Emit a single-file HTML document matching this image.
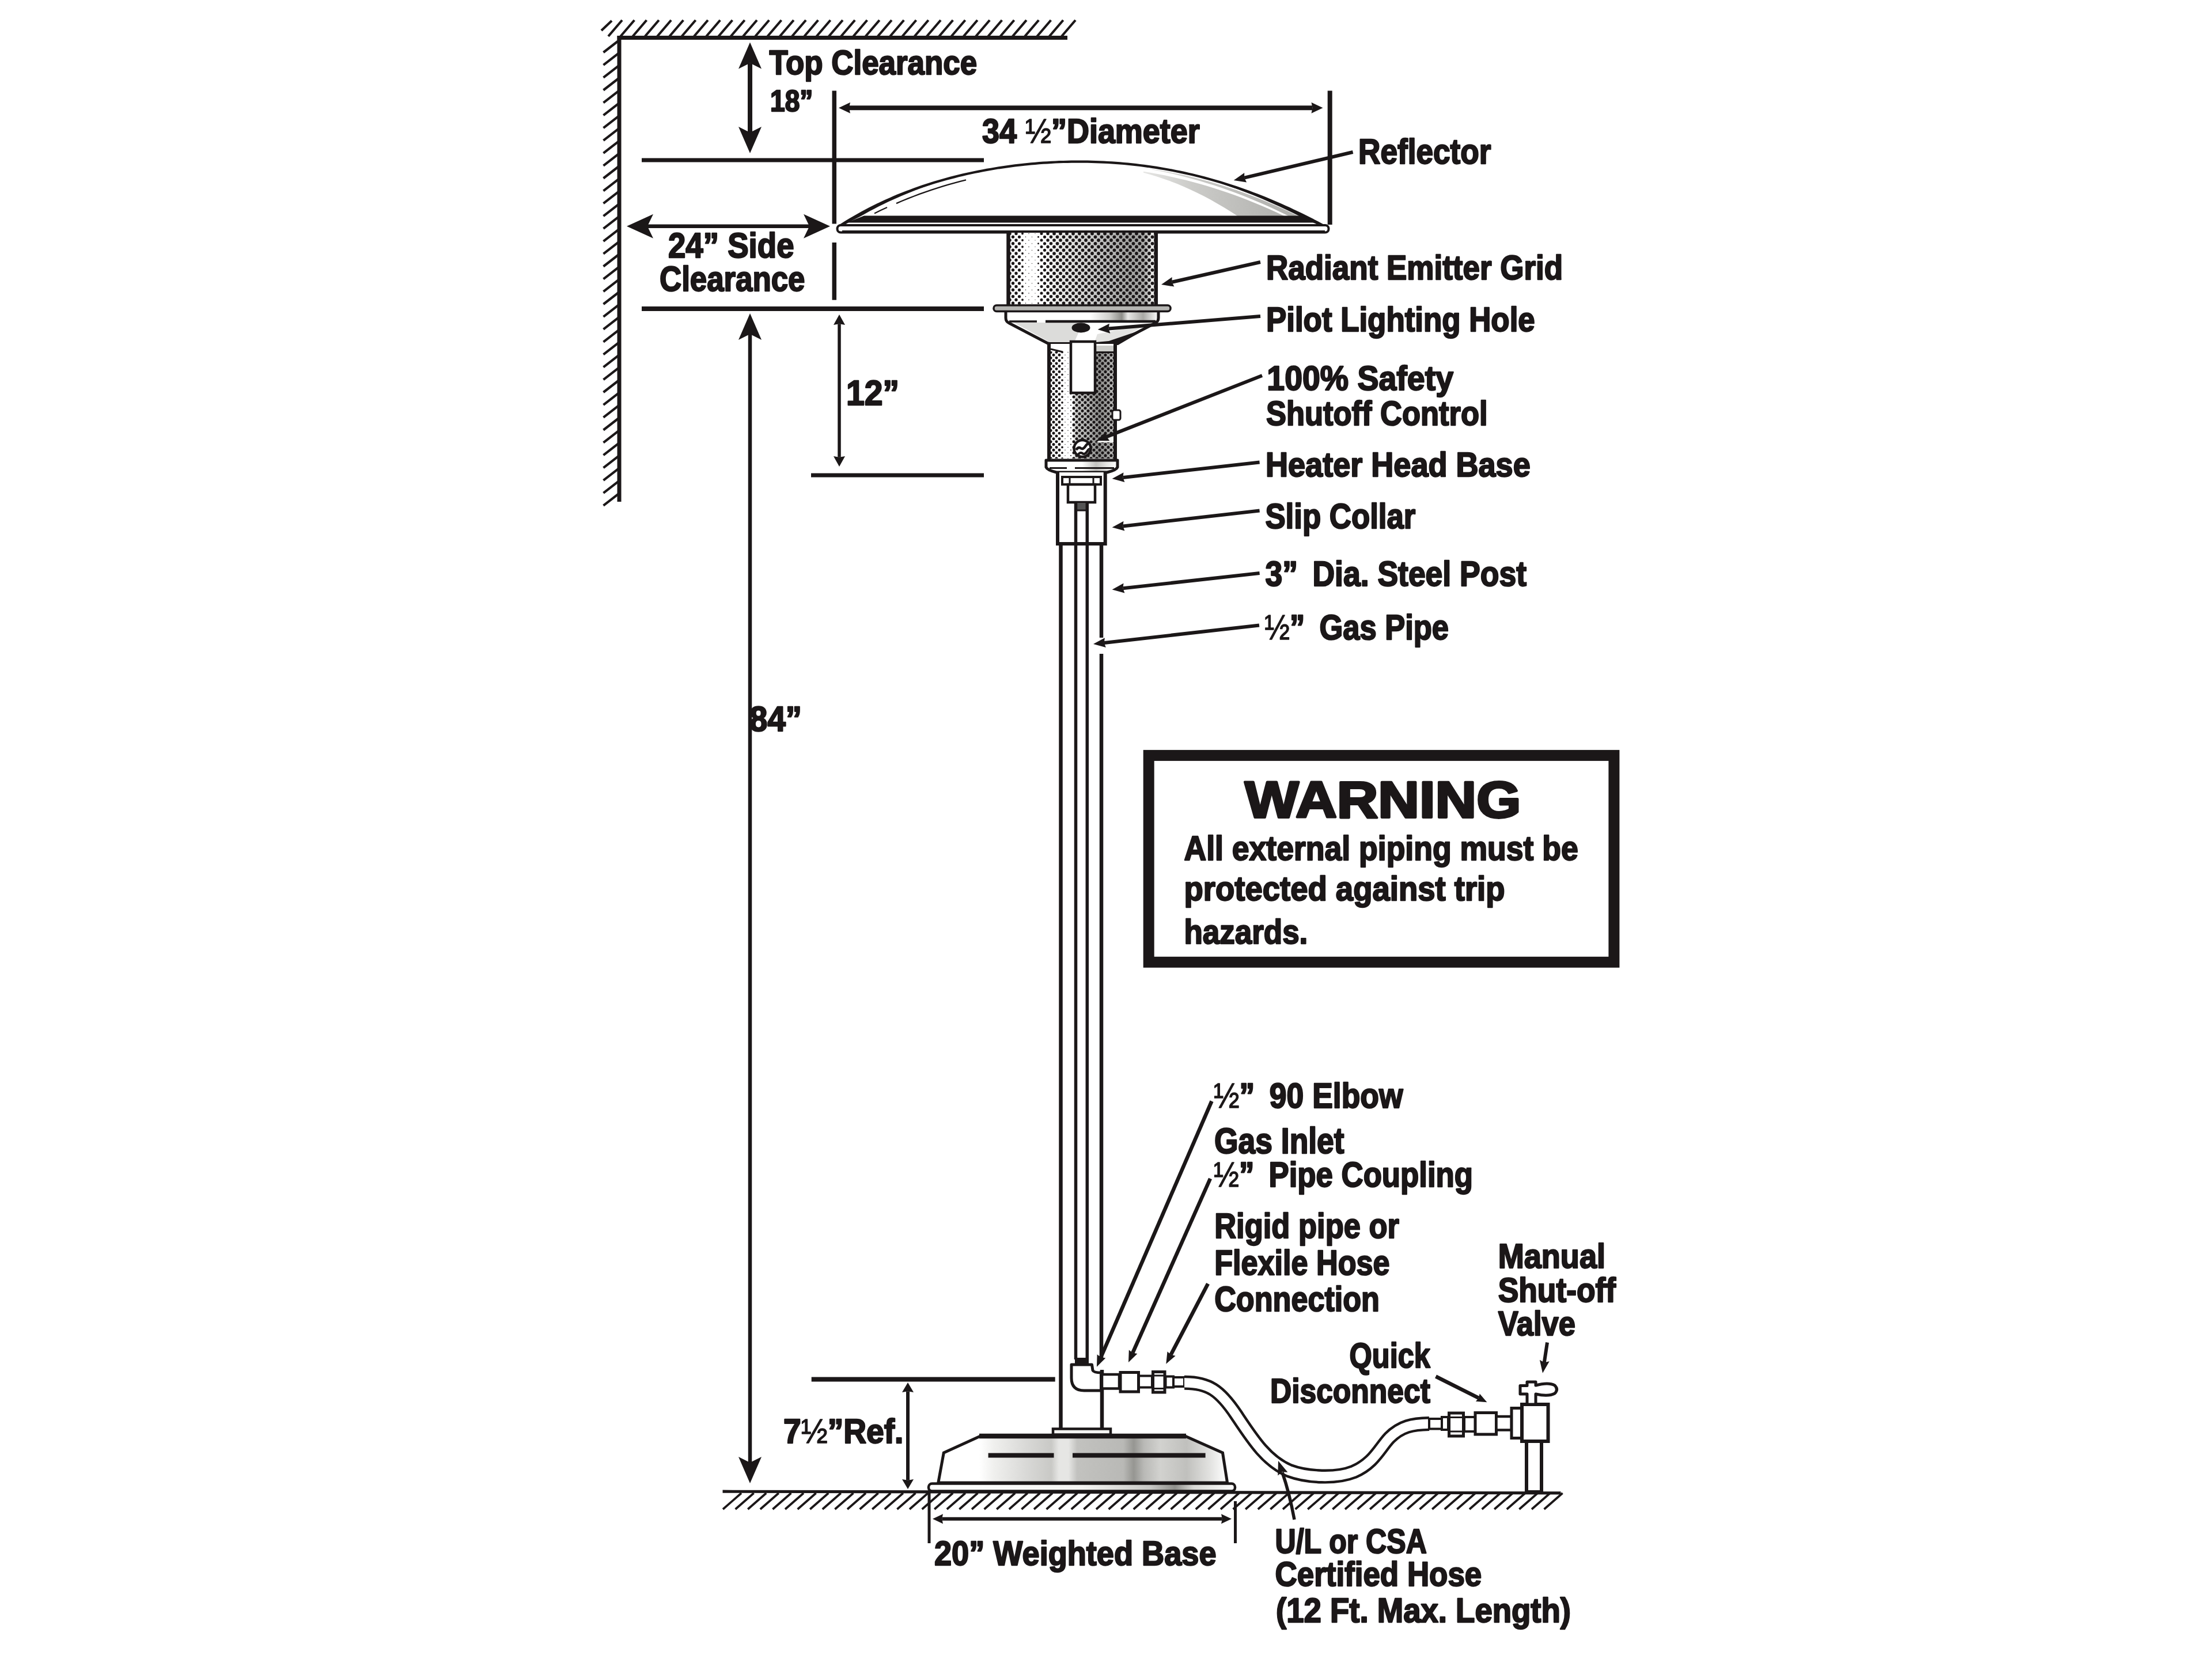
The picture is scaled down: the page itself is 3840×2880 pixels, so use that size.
<!DOCTYPE html>
<html lang="en">
<head>
<meta charset="utf-8">
<title>Patio Heater Dimensions and Clearances</title>
<style>
html,body{margin:0;padding:0;background:#fff;}
body{width:3840px;height:2880px;overflow:hidden;font-family:"Liberation Sans",Arial,sans-serif;}
svg{display:block;}
</style>
</head>
<body>
<svg width="3840" height="2880" viewBox="0 0 3840 2880">
<defs>
<linearGradient id="emit" x1="0" x2="1" y1="0" y2="0">
<stop offset="0" stop-color="#fff"/>
<stop offset="0.24" stop-color="#fff"/>
<stop offset="0.32" stop-color="#f0f0ee"/>
<stop offset="0.47" stop-color="#dcdcda"/>
<stop offset="0.66" stop-color="#bababa"/>
<stop offset="0.82" stop-color="#a3a3a1"/>
<stop offset="0.92" stop-color="#a9a9a7"/>
<stop offset="0.975" stop-color="#e8e8e6"/>
<stop offset="1" stop-color="#fff"/>
</linearGradient>
<linearGradient id="neck" x1="0" x2="1" y1="0" y2="0">
<stop offset="0" stop-color="#fff"/>
<stop offset="0.35" stop-color="#fff"/>
<stop offset="0.42" stop-color="#c9c9c7"/>
<stop offset="0.6" stop-color="#b0b0ae"/>
<stop offset="0.76" stop-color="#8e8e8c"/>
<stop offset="0.9" stop-color="#a4a4a2"/>
<stop offset="1" stop-color="#d0d0ce"/>
</linearGradient>
<linearGradient id="baseg" x1="1628" x2="2132" y1="0" y2="0" gradientUnits="userSpaceOnUse">
<stop offset="0.000" stop-color="#fff"/>
<stop offset="0.143" stop-color="#fff"/>
<stop offset="0.192" stop-color="#f0f0ee"/>
<stop offset="0.302" stop-color="#d9d9d7"/>
<stop offset="0.391" stop-color="#c9c9c6"/>
<stop offset="0.417" stop-color="#e6e6e4"/>
<stop offset="0.450" stop-color="#e6e6e4"/>
<stop offset="0.480" stop-color="#c2c2bf"/>
<stop offset="0.639" stop-color="#b9b9b6"/>
<stop offset="0.675" stop-color="#969692"/>
<stop offset="0.710" stop-color="#b9b9b6"/>
<stop offset="0.766" stop-color="#d2d2cf"/>
<stop offset="0.857" stop-color="#c0c0bd"/>
<stop offset="0.937" stop-color="#e2e2e0"/>
<stop offset="0.996" stop-color="#fff"/>
</linearGradient>
<linearGradient id="rimg" x1="1611" x2="2147" y1="0" y2="0" gradientUnits="userSpaceOnUse">
<stop offset="0" stop-color="#fff"/>
<stop offset="0.5" stop-color="#f4f4f2"/>
<stop offset="0.72" stop-color="#c8c8c5"/>
<stop offset="0.8" stop-color="#8f8f8b"/>
<stop offset="0.86" stop-color="#d8d8d5"/>
<stop offset="1" stop-color="#fff"/>
</linearGradient>
<linearGradient id="bodyg" x1="1746" x2="2011" y1="0" y2="0" gradientUnits="userSpaceOnUse">
<stop offset="0" stop-color="#fff"/>
<stop offset="0.55" stop-color="#fff"/>
<stop offset="0.68" stop-color="#cfcfcc"/>
<stop offset="0.76" stop-color="#8d8d89"/>
<stop offset="0.8" stop-color="#e8e8e6"/>
<stop offset="0.9" stop-color="#a9a9a5"/>
<stop offset="1" stop-color="#fff"/>
</linearGradient>
<linearGradient id="collarg" x1="1816" x2="1940" y1="0" y2="0" gradientUnits="userSpaceOnUse">
<stop offset="0" stop-color="#fff"/>
<stop offset="0.5" stop-color="#fff"/>
<stop offset="0.7" stop-color="#c2c2bf"/>
<stop offset="0.85" stop-color="#e6e6e4"/>
<stop offset="1" stop-color="#fff"/>
</linearGradient>
<linearGradient id="domeg" x1="1985" x2="2230" y1="0" y2="0" gradientUnits="userSpaceOnUse">
<stop offset="0" stop-color="#e6e6e4"/>
<stop offset="0.35" stop-color="#cbcbc8"/>
<stop offset="1" stop-color="#b2b2af"/>
</linearGradient>
</defs>
<rect width="3840" height="2880" fill="#fff"/>
<path d="M1044,53L1062,36M1056.0,63L1080.0,35M1077.3,63L1101.3,35M1098.5,63L1122.5,35M1119.8,63L1143.8,35M1141.1,63L1165.1,35M1162.3,63L1186.3,35M1183.6,63L1207.6,35M1204.9,63L1228.9,35M1226.2,63L1250.2,35M1247.4,63L1271.4,35M1268.7,63L1292.7,35M1290.0,63L1314.0,35M1311.2,63L1335.2,35M1332.5,63L1356.5,35M1353.8,63L1377.8,35M1375.0,63L1399.0,35M1396.3,63L1420.3,35M1417.6,63L1441.6,35M1438.9,63L1462.9,35M1460.1,63L1484.1,35M1481.4,63L1505.4,35M1502.7,63L1526.7,35M1523.9,63L1547.9,35M1545.2,63L1569.2,35M1566.5,63L1590.5,35M1587.7,63L1611.7,35M1609.0,63L1633.0,35M1630.3,63L1654.3,35M1651.6,63L1675.6,35M1672.8,63L1696.8,35M1694.1,63L1718.1,35M1715.4,63L1739.4,35M1736.6,63L1760.6,35M1757.9,63L1781.9,35M1779.2,63L1803.2,35M1800.4,63L1824.4,35M1821.7,63L1845.7,35M1843.0,63L1867.0,35M1047.5,91.0L1074,70.5M1047.5,112.8L1074,92.3M1047.5,134.7L1074,114.2M1047.5,156.5L1074,136.0M1047.5,178.4L1074,157.9M1047.5,200.2L1074,179.7M1047.5,222.1L1074,201.6M1047.5,243.9L1074,223.4M1047.5,265.8L1074,245.3M1047.5,287.6L1074,267.1M1047.5,309.5L1074,289.0M1047.5,331.4L1074,310.9M1047.5,353.2L1074,332.7M1047.5,375.1L1074,354.6M1047.5,396.9L1074,376.4M1047.5,418.8L1074,398.3M1047.5,440.6L1074,420.1M1047.5,462.5L1074,442.0M1047.5,484.3L1074,463.8M1047.5,506.2L1074,485.7M1047.5,528.0L1074,507.5M1047.5,549.9L1074,529.4M1047.5,571.7L1074,551.2M1047.5,593.6L1074,573.1M1047.5,615.4L1074,594.9M1047.5,637.3L1074,616.8M1047.5,659.1L1074,638.6M1047.5,681.0L1074,660.5M1047.5,702.8L1074,682.3M1047.5,724.7L1074,704.2M1047.5,746.5L1074,726.0M1047.5,768.4L1074,747.9M1047.5,790.2L1074,769.7M1047.5,812.1L1074,791.6M1047.5,833.9L1074,813.4M1047.5,855.8L1074,835.3M1047.5,877.6L1074,857.1" stroke="#1b1718" stroke-width="4.2" fill="none"/>
<path d="M1255.0,2620L1287.0,2592M1276.6,2620L1308.6,2592M1298.2,2620L1330.2,2592M1319.8,2620L1351.8,2592M1341.4,2620L1373.4,2592M1363.0,2620L1395.0,2592M1384.6,2620L1416.6,2592M1406.2,2620L1438.2,2592M1427.8,2620L1459.8,2592M1449.4,2620L1481.4,2592M1471.0,2620L1503.0,2592M1492.6,2620L1524.6,2592M1514.2,2620L1546.2,2592M1535.8,2620L1567.8,2592M1557.4,2620L1589.4,2592M1579.0,2620L1611.0,2592M1600.6,2620L1632.6,2592M1622.2,2620L1654.2,2592M1643.8,2620L1675.8,2592M1665.4,2620L1697.4,2592M1687.0,2620L1719.0,2592M1708.6,2620L1740.6,2592M1730.2,2620L1762.2,2592M1751.8,2620L1783.8,2592M1773.4,2620L1805.4,2592M1795.0,2620L1827.0,2592M1816.6,2620L1848.6,2592M1838.2,2620L1870.2,2592M1859.8,2620L1891.8,2592M1881.4,2620L1913.4,2592M1903.0,2620L1935.0,2592M1924.6,2620L1956.6,2592M1946.2,2620L1978.2,2592M1967.8,2620L1999.8,2592M1989.4,2620L2021.4,2592M2011.0,2620L2043.0,2592M2032.6,2620L2064.6,2592M2054.2,2620L2086.2,2592M2075.8,2620L2107.8,2592M2097.4,2620L2129.4,2592M2119.0,2620L2151.0,2592M2140.6,2620L2172.6,2592M2162.2,2620L2194.2,2592M2183.8,2620L2215.8,2592M2205.4,2620L2237.4,2592M2227.0,2620L2259.0,2592M2248.6,2620L2280.6,2592M2270.2,2620L2302.2,2592M2291.8,2620L2323.8,2592M2313.4,2620L2345.4,2592M2335.0,2620L2367.0,2592M2356.6,2620L2388.6,2592M2378.2,2620L2410.2,2592M2399.8,2620L2431.8,2592M2421.4,2620L2453.4,2592M2443.0,2620L2475.0,2592M2464.6,2620L2496.6,2592M2486.2,2620L2518.2,2592M2507.8,2620L2539.8,2592M2529.4,2620L2561.4,2592M2551.0,2620L2583.0,2592M2572.6,2620L2604.6,2592M2594.2,2620L2626.2,2592M2615.8,2620L2647.8,2592M2637.4,2620L2669.4,2592M2659.0,2620L2691.0,2592M2680.6,2620L2712.6,2592" stroke="#1b1718" stroke-width="3.7" fill="none"/>
<line x1="1071.5" y1="65.5" x2="1853.0" y2="65.5" stroke="#1b1718" stroke-width="7" stroke-linecap="butt"/>
<line x1="1075.0" y1="62.0" x2="1075.0" y2="871.0" stroke="#1b1718" stroke-width="7" stroke-linecap="butt"/>
<line x1="1254.5" y1="2589.2" x2="2709.5" y2="2591.8" stroke="#1b1718" stroke-width="5.2" stroke-linecap="butt"/>
<line x1="1114.0" y1="278.0" x2="1708.0" y2="278.0" stroke="#1b1718" stroke-width="7" stroke-linecap="butt"/>
<line x1="1114.0" y1="536.0" x2="1708.0" y2="536.0" stroke="#1b1718" stroke-width="8" stroke-linecap="butt"/>
<line x1="1408.0" y1="825.0" x2="1708.0" y2="825.0" stroke="#1b1718" stroke-width="7" stroke-linecap="butt"/>
<line x1="1408.7" y1="2394.6" x2="1831.7" y2="2394.6" stroke="#1b1718" stroke-width="8" stroke-linecap="butt"/>
<line x1="1448.3" y1="157.5" x2="1448.3" y2="388.5" stroke="#1b1718" stroke-width="7.5" stroke-linecap="butt"/>
<line x1="1448.3" y1="421.0" x2="1448.3" y2="520.7" stroke="#1b1718" stroke-width="7.5" stroke-linecap="butt"/>
<line x1="2308.7" y1="157.5" x2="2308.7" y2="390.0" stroke="#1b1718" stroke-width="8" stroke-linecap="butt"/>
<polygon points="1456.0,187.3 1476.0,177.8 1474.0,187.3 1476.0,196.8" fill="#1b1718"/>
<polygon points="2296.5,187.3 2276.5,196.8 2278.5,187.3 2276.5,177.8" fill="#1b1718"/>
<line x1="2278.5" y1="187.3" x2="1474.0" y2="187.3" stroke="#1b1718" stroke-width="8" stroke-linecap="butt"/>
<polygon points="1302.0,73.5 1322.0,119.5 1302.0,109.4 1282.0,119.5" fill="#1b1718"/>
<polygon points="1302.0,266.0 1282.0,220.0 1302.0,230.1 1322.0,220.0" fill="#1b1718"/>
<line x1="1302.0" y1="230.1" x2="1302.0" y2="109.4" stroke="#1b1718" stroke-width="8" stroke-linecap="butt"/>
<polygon points="1088.0,392.8 1134.0,371.8 1123.9,392.8 1134.0,413.8" fill="#1b1718"/>
<polygon points="1441.0,392.8 1395.0,413.8 1405.1,392.8 1395.0,371.8" fill="#1b1718"/>
<line x1="1405.1" y1="392.8" x2="1123.9" y2="392.8" stroke="#1b1718" stroke-width="6.5" stroke-linecap="butt"/>
<polygon points="1302.0,544.0 1322.0,590.0 1302.0,579.9 1282.0,590.0" fill="#1b1718"/>
<polygon points="1302.0,2575.0 1282.0,2529.0 1302.0,2539.1 1322.0,2529.0" fill="#1b1718"/>
<line x1="1302.0" y1="2539.1" x2="1302.0" y2="579.9" stroke="#1b1718" stroke-width="6.5" stroke-linecap="butt"/>
<polygon points="1457.0,546.0 1467.0,564.0 1457.0,562.2 1447.0,564.0" fill="#1b1718"/>
<polygon points="1457.0,810.0 1447.0,792.0 1457.0,793.8 1467.0,792.0" fill="#1b1718"/>
<line x1="1457.0" y1="793.8" x2="1457.0" y2="562.2" stroke="#1b1718" stroke-width="5.5" stroke-linecap="butt"/>
<polygon points="1576.0,2400.0 1586.0,2417.0 1576.0,2415.3 1566.0,2417.0" fill="#1b1718"/>
<polygon points="1576.0,2585.0 1566.0,2568.0 1576.0,2569.7 1586.0,2568.0" fill="#1b1718"/>
<line x1="1576.0" y1="2569.7" x2="1576.0" y2="2415.3" stroke="#1b1718" stroke-width="6" stroke-linecap="butt"/>
<line x1="1613.0" y1="2592.0" x2="1613.0" y2="2679.0" stroke="#1b1718" stroke-width="5" stroke-linecap="butt"/>
<line x1="2144.5" y1="2606.0" x2="2144.5" y2="2679.0" stroke="#1b1718" stroke-width="5" stroke-linecap="butt"/>
<polygon points="1619.0,2636.8 1637.0,2628.3 1635.2,2636.8 1637.0,2645.3" fill="#1b1718"/>
<polygon points="2138.0,2636.8 2120.0,2645.3 2121.8,2636.8 2120.0,2628.3" fill="#1b1718"/>
<line x1="2121.8" y1="2636.8" x2="1635.2" y2="2636.8" stroke="#1b1718" stroke-width="6" stroke-linecap="butt"/>
<clipPath id="domeclip"><polygon points="1454.0,394.5 1461.0,390.0 1468.0,385.6 1475.0,381.3 1482.0,377.2 1489.0,373.2 1496.0,369.3 1503.0,365.6 1510.0,361.9 1517.0,358.4 1524.0,355.0 1531.0,351.6 1538.0,348.4 1545.0,345.3 1552.0,342.3 1559.0,339.3 1566.0,336.5 1573.0,333.7 1580.0,331.1 1587.0,328.5 1594.0,326.0 1601.0,323.6 1608.0,321.3 1615.0,319.0 1622.0,316.8 1629.0,314.7 1636.0,312.7 1643.0,310.8 1650.0,308.9 1657.0,307.1 1664.0,305.3 1671.0,303.6 1678.0,302.0 1685.0,300.5 1692.0,299.0 1699.0,297.6 1706.0,296.2 1713.0,294.9 1720.0,293.7 1727.0,292.5 1734.0,291.3 1741.0,290.3 1748.0,289.3 1755.0,288.3 1762.0,287.4 1769.0,286.6 1776.0,285.8 1783.0,285.1 1790.0,284.4 1797.0,283.8 1804.0,283.2 1811.0,282.7 1818.0,282.3 1825.0,281.9 1832.0,281.5 1839.0,281.2 1846.0,281.0 1853.0,280.8 1860.0,280.7 1867.0,280.6 1874.0,280.6 1881.0,280.6 1888.0,280.7 1895.0,280.9 1902.0,281.1 1909.0,281.3 1916.0,281.6 1923.0,282.0 1930.0,282.4 1937.0,282.9 1944.0,283.4 1951.0,284.0 1958.0,284.7 1965.0,285.4 1972.0,286.2 1979.0,287.0 1986.0,287.9 1993.0,288.8 2000.0,289.9 2007.0,290.9 2014.0,292.1 2021.0,293.3 2028.0,294.5 2035.0,295.8 2042.0,297.2 2049.0,298.6 2056.0,300.1 2063.0,301.7 2070.0,303.3 2077.0,305.0 2084.0,306.8 2091.0,308.6 2098.0,310.5 2105.0,312.5 2112.0,314.5 2119.0,316.6 2126.0,318.7 2133.0,320.9 2140.0,323.2 2147.0,325.6 2154.0,328.0 2161.0,330.4 2168.0,333.0 2175.0,335.6 2182.0,338.3 2189.0,341.0 2196.0,343.8 2203.0,346.7 2210.0,349.6 2217.0,352.6 2224.0,355.7 2231.0,358.8 2238.0,362.0 2245.0,365.3 2252.0,368.6 2259.0,372.0 2266.0,375.5 2273.0,379.0 2280.0,382.5 2287.0,386.2 2294.0,389.9 2301.0,393.6"/></clipPath>
<polygon points="1454.0,394.5 1461.0,390.0 1468.0,385.6 1475.0,381.3 1482.0,377.2 1489.0,373.2 1496.0,369.3 1503.0,365.6 1510.0,361.9 1517.0,358.4 1524.0,355.0 1531.0,351.6 1538.0,348.4 1545.0,345.3 1552.0,342.3 1559.0,339.3 1566.0,336.5 1573.0,333.7 1580.0,331.1 1587.0,328.5 1594.0,326.0 1601.0,323.6 1608.0,321.3 1615.0,319.0 1622.0,316.8 1629.0,314.7 1636.0,312.7 1643.0,310.8 1650.0,308.9 1657.0,307.1 1664.0,305.3 1671.0,303.6 1678.0,302.0 1685.0,300.5 1692.0,299.0 1699.0,297.6 1706.0,296.2 1713.0,294.9 1720.0,293.7 1727.0,292.5 1734.0,291.3 1741.0,290.3 1748.0,289.3 1755.0,288.3 1762.0,287.4 1769.0,286.6 1776.0,285.8 1783.0,285.1 1790.0,284.4 1797.0,283.8 1804.0,283.2 1811.0,282.7 1818.0,282.3 1825.0,281.9 1832.0,281.5 1839.0,281.2 1846.0,281.0 1853.0,280.8 1860.0,280.7 1867.0,280.6 1874.0,280.6 1881.0,280.6 1888.0,280.7 1895.0,280.9 1902.0,281.1 1909.0,281.3 1916.0,281.6 1923.0,282.0 1930.0,282.4 1937.0,282.9 1944.0,283.4 1951.0,284.0 1958.0,284.7 1965.0,285.4 1972.0,286.2 1979.0,287.0 1986.0,287.9 1993.0,288.8 2000.0,289.9 2007.0,290.9 2014.0,292.1 2021.0,293.3 2028.0,294.5 2035.0,295.8 2042.0,297.2 2049.0,298.6 2056.0,300.1 2063.0,301.7 2070.0,303.3 2077.0,305.0 2084.0,306.8 2091.0,308.6 2098.0,310.5 2105.0,312.5 2112.0,314.5 2119.0,316.6 2126.0,318.7 2133.0,320.9 2140.0,323.2 2147.0,325.6 2154.0,328.0 2161.0,330.4 2168.0,333.0 2175.0,335.6 2182.0,338.3 2189.0,341.0 2196.0,343.8 2203.0,346.7 2210.0,349.6 2217.0,352.6 2224.0,355.7 2231.0,358.8 2238.0,362.0 2245.0,365.3 2252.0,368.6 2259.0,372.0 2266.0,375.5 2273.0,379.0 2280.0,382.5 2287.0,386.2 2294.0,389.9 2301.0,393.6" fill="#fff"/>
<g clip-path="url(#domeclip)"><polygon points="1985.0,297.8 1997.1,299.8 2009.3,302.0 2021.4,304.3 2033.6,306.9 2045.7,309.7 2057.9,312.6 2070.0,315.7 2082.1,319.0 2094.3,322.6 2106.4,326.3 2118.6,330.2 2130.7,334.3 2142.9,338.6 2155.0,343.1 2167.1,347.8 2179.3,352.7 2191.4,357.8 2203.6,363.1 2215.7,368.5 2227.9,374.2 2240.0,380.1 2160.0,383.1 2148.3,375.1 2136.7,367.5 2125.0,360.3 2113.3,353.4 2101.7,346.8 2090.0,340.6 2078.3,334.7 2066.7,329.2 2055.0,324.0 2043.3,319.1 2031.7,314.6 2020.0,310.4 2008.3,306.5 1996.7,303.0 1985.0,299.8" fill="url(#domeg)"/><polygon points="2000.0,293.4 2012.3,295.4 2024.5,297.6 2036.8,300.0 2049.1,302.6 2061.4,305.3 2073.6,308.3 2085.9,311.5 2098.2,314.8 2110.5,318.4 2122.7,322.2 2135.0,326.2 2147.3,330.3 2159.5,334.7 2171.8,339.3 2184.1,344.1 2196.4,349.0 2208.6,354.2 2220.9,359.6 2233.2,365.2 2245.5,371.0 2257.7,377.0 2270.0,383.1 2250.0,381.7 2238.1,375.6 2226.2,369.8 2214.3,364.1 2202.4,358.6 2190.5,353.3 2178.6,348.2 2166.7,343.3 2154.8,338.6 2142.9,334.1 2131.0,329.7 2119.0,325.6 2107.1,321.6 2095.2,317.9 2083.3,314.3 2071.4,310.9 2059.5,307.7 2047.6,304.7 2035.7,301.8 2023.8,299.2 2011.9,296.7 2000.0,294.4" fill="url(#domeg)"/><rect x="1440" y="376" width="880" height="30" fill="#fff"/></g>
<polyline points="1454.0,394.5 1461.0,390.0 1468.0,385.6 1475.0,381.3 1482.0,377.2 1489.0,373.2 1496.0,369.3 1503.0,365.6 1510.0,361.9 1517.0,358.4 1524.0,355.0 1531.0,351.6 1538.0,348.4 1545.0,345.3 1552.0,342.3 1559.0,339.3 1566.0,336.5 1573.0,333.7 1580.0,331.1 1587.0,328.5 1594.0,326.0 1601.0,323.6 1608.0,321.3 1615.0,319.0 1622.0,316.8 1629.0,314.7 1636.0,312.7 1643.0,310.8 1650.0,308.9 1657.0,307.1 1664.0,305.3 1671.0,303.6 1678.0,302.0 1685.0,300.5 1692.0,299.0 1699.0,297.6 1706.0,296.2 1713.0,294.9 1720.0,293.7 1727.0,292.5 1734.0,291.3 1741.0,290.3 1748.0,289.3 1755.0,288.3 1762.0,287.4 1769.0,286.6 1776.0,285.8 1783.0,285.1 1790.0,284.4 1797.0,283.8 1804.0,283.2 1811.0,282.7 1818.0,282.3 1825.0,281.9 1832.0,281.5 1839.0,281.2 1846.0,281.0 1853.0,280.8 1860.0,280.7 1867.0,280.6 1874.0,280.6 1881.0,280.6 1888.0,280.7 1895.0,280.9 1902.0,281.1 1909.0,281.3 1916.0,281.6 1923.0,282.0 1930.0,282.4 1937.0,282.9 1944.0,283.4 1951.0,284.0 1958.0,284.7 1965.0,285.4 1972.0,286.2 1979.0,287.0 1986.0,287.9 1993.0,288.8 2000.0,289.9 2007.0,290.9 2014.0,292.1 2021.0,293.3 2028.0,294.5 2035.0,295.8 2042.0,297.2 2049.0,298.6 2056.0,300.1 2063.0,301.7 2070.0,303.3 2077.0,305.0 2084.0,306.8 2091.0,308.6 2098.0,310.5 2105.0,312.5 2112.0,314.5 2119.0,316.6 2126.0,318.7 2133.0,320.9 2140.0,323.2 2147.0,325.6 2154.0,328.0 2161.0,330.4 2168.0,333.0 2175.0,335.6 2182.0,338.3 2189.0,341.0 2196.0,343.8 2203.0,346.7 2210.0,349.6 2217.0,352.6 2224.0,355.7 2231.0,358.8 2238.0,362.0 2245.0,365.3 2252.0,368.6 2259.0,372.0 2266.0,375.5 2273.0,379.0 2280.0,382.5 2287.0,386.2 2294.0,389.9 2301.0,393.6" fill="none" stroke="#1b1718" stroke-width="4.2" stroke-linejoin="round"/>
<polygon points="1454.0,394.5 1461.9,389.4 1469.8,384.4 1477.8,379.7 1485.7,375.1 1493.6,370.6 1501.5,366.3 1509.5,362.2 1517.4,358.2 1525.3,354.3 1533.2,350.6 1541.2,347.0 1549.1,343.5 1557.0,340.2 1564.9,336.9 1572.8,333.8 1580.8,330.8 1588.7,327.9 1596.6,325.1 1604.5,322.4 1612.5,319.8 1620.4,317.3 1628.3,315.0 1636.2,312.7 1644.2,310.4 1652.1,308.3 1660.0,306.3 1660.0,306.3 1652.1,308.5 1644.2,310.8 1636.2,313.2 1628.3,315.7 1620.4,318.3 1612.5,321.0 1604.5,323.8 1596.6,326.6 1588.7,329.6 1580.8,332.7 1572.8,335.9 1564.9,339.2 1557.0,342.7 1549.1,346.2 1541.2,349.9 1533.2,353.7 1525.3,357.6 1517.4,361.7 1509.5,365.9 1501.5,370.2 1493.6,374.7 1485.7,378.7 1477.8,382.9 1469.8,387.2 1461.9,391.7 1454.0,396.2" fill="#1b1718" stroke="#1b1718" stroke-width="1.6"/>
<polygon points="2301.0,393.6 2293.1,389.4 2285.2,385.2 2277.3,381.2 2269.4,377.2 2261.5,373.3 2253.6,369.4 2245.8,365.7 2237.9,362.0 2230.0,358.4 2222.1,354.9 2214.2,351.4 2206.3,348.1 2198.4,344.8 2190.5,341.6 2182.6,338.5 2174.7,335.5 2166.8,332.6 2158.9,329.7 2151.0,326.9 2143.1,324.3 2135.2,321.7 2127.4,319.1 2119.5,316.7 2111.6,314.4 2103.7,312.1 2095.8,309.9 2087.9,307.8 2080.0,305.8 2080.0,305.8 2087.9,308.0 2095.8,310.3 2103.7,312.6 2111.6,315.1 2119.5,317.6 2127.4,320.2 2135.2,322.9 2143.1,325.7 2151.0,328.5 2158.9,331.5 2166.8,334.5 2174.7,337.6 2182.6,340.8 2190.5,344.1 2198.4,347.5 2206.3,350.9 2214.2,354.5 2222.1,358.1 2230.0,361.8 2237.9,365.5 2245.8,369.4 2253.6,373.3 2261.5,377.3 2269.4,380.9 2277.3,384.5 2285.2,388.1 2293.1,391.7 2301.0,395.4" fill="#1b1718" stroke="#1b1718" stroke-width="1.6"/>
<polyline points="1556.0,353.1 1566.1,348.8 1576.2,344.6 1586.2,340.7 1596.3,336.9 1606.4,333.3 1616.5,329.8 1626.6,326.6 1636.7,323.4 1646.8,320.4 1656.8,317.6 1666.9,314.9 1677.0,312.3" fill="none" stroke="#1b1718" stroke-width="2.3"/>
<polyline points="1518.0,370.4 1529.0,365.1 1540.0,360.0" fill="none" stroke="#1b1718" stroke-width="2.2"/>
<polygon points="1470,386.5 1500,374.5 2256,374.5 2288,386.5" fill="#1b1718"/>
<rect x="1453.5" y="391" width="853" height="12.5" rx="6" fill="#fff" stroke="#1b1718" stroke-width="4"/>
<line x1="1462.0" y1="402.5" x2="2300.0" y2="402.5" stroke="#1b1718" stroke-width="5" stroke-linecap="butt"/>
<rect x="1750" y="404" width="257" height="127" fill="url(#emit)"/>
<clipPath id="emclip"><rect x="1751" y="404" width="256" height="127"/></clipPath>
<g clip-path="url(#emclip)" stroke="#1b1718" stroke-linecap="round" stroke-dasharray="0 11.5">
<line x1="1753.0" y1="394.0" x2="1753.0" y2="542.5" stroke-width="5.50"/>
<line x1="1758.5" y1="399.8" x2="1758.5" y2="542.5" stroke-width="5.41"/>
<line x1="1764.0" y1="394.0" x2="1764.0" y2="542.5" stroke-width="5.33"/>
<line x1="1769.5" y1="399.8" x2="1769.5" y2="542.5" stroke-width="5.24"/>
<line x1="1775.0" y1="394.0" x2="1775.0" y2="542.5" stroke-width="3.85"/>
<line x1="1780.5" y1="399.8" x2="1780.5" y2="542.5" stroke-width="1.59"/>
<line x1="1786.0" y1="394.0" x2="1786.0" y2="542.5" stroke-width="1.47"/>
<line x1="1791.5" y1="399.8" x2="1791.5" y2="542.5" stroke-width="1.34"/>
<line x1="1797.0" y1="394.0" x2="1797.0" y2="542.5" stroke-width="1.22"/>
<line x1="1802.5" y1="399.8" x2="1802.5" y2="542.5" stroke-width="3.10"/>
<line x1="1808.0" y1="394.0" x2="1808.0" y2="542.5" stroke-width="5.03"/>
<line x1="1813.5" y1="399.8" x2="1813.5" y2="542.5" stroke-width="5.20"/>
<line x1="1819.0" y1="394.0" x2="1819.0" y2="542.5" stroke-width="5.37"/>
<line x1="1824.5" y1="399.8" x2="1824.5" y2="542.5" stroke-width="5.53"/>
<line x1="1830.0" y1="394.0" x2="1830.0" y2="542.5" stroke-width="5.70"/>
<line x1="1835.5" y1="399.8" x2="1835.5" y2="542.5" stroke-width="5.71"/>
<line x1="1841.0" y1="394.0" x2="1841.0" y2="542.5" stroke-width="5.72"/>
<line x1="1846.5" y1="399.8" x2="1846.5" y2="542.5" stroke-width="5.73"/>
<line x1="1852.0" y1="394.0" x2="1852.0" y2="542.5" stroke-width="5.74"/>
<line x1="1857.5" y1="399.8" x2="1857.5" y2="542.5" stroke-width="5.75"/>
<line x1="1863.0" y1="394.0" x2="1863.0" y2="542.5" stroke-width="5.75"/>
<line x1="1868.5" y1="399.8" x2="1868.5" y2="542.5" stroke-width="5.76"/>
<line x1="1874.0" y1="394.0" x2="1874.0" y2="542.5" stroke-width="5.77"/>
<line x1="1879.5" y1="399.8" x2="1879.5" y2="542.5" stroke-width="5.78"/>
<line x1="1885.0" y1="394.0" x2="1885.0" y2="542.5" stroke-width="5.79"/>
<line x1="1890.5" y1="399.8" x2="1890.5" y2="542.5" stroke-width="5.80"/>
<line x1="1896.0" y1="394.0" x2="1896.0" y2="542.5" stroke-width="5.80"/>
<line x1="1901.5" y1="399.8" x2="1901.5" y2="542.5" stroke-width="5.80"/>
<line x1="1907.0" y1="394.0" x2="1907.0" y2="542.5" stroke-width="5.80"/>
<line x1="1912.5" y1="399.8" x2="1912.5" y2="542.5" stroke-width="5.80"/>
<line x1="1918.0" y1="394.0" x2="1918.0" y2="542.5" stroke-width="5.80"/>
<line x1="1923.5" y1="399.8" x2="1923.5" y2="542.5" stroke-width="5.80"/>
<line x1="1929.0" y1="394.0" x2="1929.0" y2="542.5" stroke-width="5.80"/>
<line x1="1934.5" y1="399.8" x2="1934.5" y2="542.5" stroke-width="5.80"/>
<line x1="1940.0" y1="394.0" x2="1940.0" y2="542.5" stroke-width="5.80"/>
<line x1="1945.5" y1="399.8" x2="1945.5" y2="542.5" stroke-width="5.80"/>
<line x1="1951.0" y1="394.0" x2="1951.0" y2="542.5" stroke-width="5.80"/>
<line x1="1956.5" y1="399.8" x2="1956.5" y2="542.5" stroke-width="5.80"/>
<line x1="1962.0" y1="394.0" x2="1962.0" y2="542.5" stroke-width="5.80"/>
<line x1="1967.5" y1="399.8" x2="1967.5" y2="542.5" stroke-width="5.80"/>
<line x1="1973.0" y1="394.0" x2="1973.0" y2="542.5" stroke-width="5.80"/>
<line x1="1978.5" y1="399.8" x2="1978.5" y2="542.5" stroke-width="5.80"/>
<line x1="1984.0" y1="394.0" x2="1984.0" y2="542.5" stroke-width="5.80"/>
<line x1="1989.5" y1="399.8" x2="1989.5" y2="542.5" stroke-width="5.80"/>
<line x1="1995.0" y1="394.0" x2="1995.0" y2="542.5" stroke-width="5.80"/>
<line x1="2000.5" y1="399.8" x2="2000.5" y2="542.5" stroke-width="5.80"/>
<line x1="2006.0" y1="394.0" x2="2006.0" y2="542.5" stroke-width="5.80"/>
</g>
<line x1="1750.5" y1="403.0" x2="1750.5" y2="532.0" stroke="#1b1718" stroke-width="6.5" stroke-linecap="butt"/>
<line x1="2006.8" y1="403.0" x2="2006.8" y2="532.0" stroke="#1b1718" stroke-width="6.5" stroke-linecap="butt"/>
<path d="M1746,538 L1746,552 Q1746,558 1752,561 L1819,596 L1938,596 L2005,561 Q2011,558 2011,552 L2011,538 Z" fill="#fff" stroke="#1b1718" stroke-width="5" stroke-linejoin="round"/>
<rect x="1749" y="541" width="259" height="15" fill="url(#bodyg)"/>
<polygon points="1760,560 1880,560 1865,594 1822,594" fill="#dcdcda"/>
<polygon points="1905,580 1990,563 1938,594 1900,594" fill="#e3e3e1"/>
<polygon points="1987,572 1941,599 1902,599 1903,594 1925,592 1978,574" fill="#1b1718"/>
<line x1="1752.0" y1="558.0" x2="1800.0" y2="558.0" stroke="#1b1718" stroke-width="3.5" stroke-linecap="butt"/>
<line x1="1815.0" y1="558.0" x2="2006.0" y2="558.0" stroke="#1b1718" stroke-width="4.5" stroke-linecap="butt"/>
<rect x="1725" y="530" width="307" height="10.5" rx="5" fill="#b5b5b2" stroke="#1b1718" stroke-width="3.5"/>
<ellipse cx="1876.5" cy="569" rx="16" ry="8.5" fill="#1b1718"/>
<rect x="1821" y="597" width="115" height="200" fill="#fff"/>
<rect x="1821" y="612" width="115" height="184" fill="url(#neck)"/>
<clipPath id="nkclip"><rect x="1822" y="610" width="114" height="186"/></clipPath>
<g clip-path="url(#nkclip)" stroke="#1b1718" stroke-linecap="round" stroke-dasharray="0 9.7">
<line x1="1824.0" y1="601.8" x2="1824.0" y2="805.7" stroke-width="5.10"/>
<line x1="1829.0" y1="606.6" x2="1829.0" y2="805.7" stroke-width="5.04"/>
<line x1="1834.0" y1="601.8" x2="1834.0" y2="805.7" stroke-width="4.99"/>
<line x1="1839.0" y1="606.6" x2="1839.0" y2="805.7" stroke-width="4.93"/>
<line x1="1844.0" y1="601.8" x2="1844.0" y2="805.7" stroke-width="3.73"/>
<line x1="1849.0" y1="606.6" x2="1849.0" y2="805.7" stroke-width="1.40"/>
<line x1="1854.0" y1="601.8" x2="1854.0" y2="805.7" stroke-width="1.40"/>
<line x1="1859.0" y1="606.6" x2="1859.0" y2="805.7" stroke-width="2.00"/>
<line x1="1864.0" y1="601.8" x2="1864.0" y2="805.7" stroke-width="5.00"/>
<line x1="1869.0" y1="606.6" x2="1869.0" y2="805.7" stroke-width="5.02"/>
<line x1="1874.0" y1="601.8" x2="1874.0" y2="805.7" stroke-width="5.05"/>
<line x1="1879.0" y1="606.6" x2="1879.0" y2="805.7" stroke-width="5.07"/>
<line x1="1884.0" y1="601.8" x2="1884.0" y2="805.7" stroke-width="5.10"/>
<line x1="1889.0" y1="606.6" x2="1889.0" y2="805.7" stroke-width="5.10"/>
<line x1="1894.0" y1="601.8" x2="1894.0" y2="805.7" stroke-width="5.10"/>
<line x1="1899.0" y1="606.6" x2="1899.0" y2="805.7" stroke-width="5.10"/>
<line x1="1904.0" y1="601.8" x2="1904.0" y2="805.7" stroke-width="5.10"/>
<line x1="1909.0" y1="606.6" x2="1909.0" y2="805.7" stroke-width="5.10"/>
<line x1="1914.0" y1="601.8" x2="1914.0" y2="805.7" stroke-width="5.10"/>
<line x1="1919.0" y1="606.6" x2="1919.0" y2="805.7" stroke-width="5.10"/>
<line x1="1924.0" y1="601.8" x2="1924.0" y2="805.7" stroke-width="5.10"/>
<line x1="1929.0" y1="606.6" x2="1929.0" y2="805.7" stroke-width="5.10"/>
<line x1="1934.0" y1="601.8" x2="1934.0" y2="805.7" stroke-width="5.10"/>
</g>
<rect x="1903" y="600" width="31" height="10" fill="#ccccc9"/>
<line x1="1821.0" y1="595.0" x2="1821.0" y2="800.0" stroke="#1b1718" stroke-width="6" stroke-linecap="butt"/>
<line x1="1936.0" y1="595.0" x2="1936.0" y2="800.0" stroke="#1b1718" stroke-width="6" stroke-linecap="butt"/>
<line x1="1903.0" y1="611.5" x2="1936.0" y2="611.5" stroke="#1b1718" stroke-width="3" stroke-linecap="butt"/>
<line x1="1824.0" y1="606.0" x2="1845.0" y2="611.0" stroke="#1b1718" stroke-width="3" stroke-linecap="butt"/>
<rect x="1859" y="593" width="42" height="89" fill="#fff" stroke="#1b1718" stroke-width="4.5"/>
<rect x="1931" y="712" width="14" height="17" rx="3" fill="#fff" stroke="#1b1718" stroke-width="3"/>
<circle cx="1879" cy="778.5" r="14.5" fill="#fff" stroke="#1b1718" stroke-width="4.5"/>
<path d="M1868,781 q4,-6 8,-3 t8,-3 t7,-5" fill="none" stroke="#1b1718" stroke-width="4.6"/>
<path d="M1871,790 q4,-6 8,-3 t8,-3 t5,-4" fill="none" stroke="#1b1718" stroke-width="4.2"/>
<polygon points="1903,768 1933,768 1933,757 1908,765" fill="#f2f2f0"/>
<path d="M1816,799 L1940,799 L1940,811 Q1938,816 1922,820 L1834,820 Q1818,816 1816,811 Z" fill="url(#collarg)" stroke="#1b1718" stroke-width="5" stroke-linejoin="round"/>
<line x1="1822.0" y1="812.5" x2="1852.0" y2="812.5" stroke="#1b1718" stroke-width="3" stroke-linecap="butt"/>
<line x1="1866.0" y1="812.5" x2="1934.0" y2="812.5" stroke="#1b1718" stroke-width="3" stroke-linecap="butt"/>
<rect x="1842" y="820" width="70" height="1660" fill="#fff"/>
<path d="M1836,820 L1836,944 L1918.7,944 L1918.7,820" fill="#fff" stroke="#1b1718" stroke-width="6"/>
<rect x="1844" y="828" width="67" height="13" fill="#fff" stroke="#1b1718" stroke-width="4"/>
<line x1="1857.0" y1="828.0" x2="1857.0" y2="841.0" stroke="#1b1718" stroke-width="3" stroke-linecap="butt"/>
<line x1="1898.0" y1="828.0" x2="1898.0" y2="841.0" stroke="#1b1718" stroke-width="3" stroke-linecap="butt"/>
<rect x="1854" y="841" width="47" height="31" fill="#fff" stroke="#1b1718" stroke-width="4.5"/>
<rect x="1866" y="873" width="23" height="13" fill="#555"/>
<line x1="1841.5" y1="944.0" x2="1841.5" y2="2481.0" stroke="#1b1718" stroke-width="6.5" stroke-linecap="butt"/>
<line x1="1912.0" y1="944.0" x2="1912.0" y2="1107.0" stroke="#1b1718" stroke-width="6.5" stroke-linecap="butt"/>
<line x1="1912.0" y1="1135.0" x2="1912.0" y2="2360.0" stroke="#1b1718" stroke-width="6.5" stroke-linecap="butt"/>
<line x1="1913.0" y1="2378.0" x2="1913.0" y2="2479.0" stroke="#1b1718" stroke-width="6.5" stroke-linecap="butt"/>
<line x1="1867.5" y1="873.0" x2="1867.5" y2="2360.0" stroke="#1b1718" stroke-width="5.5" stroke-linecap="butt"/>
<line x1="1887.3" y1="873.0" x2="1887.3" y2="2360.0" stroke="#1b1718" stroke-width="5.5" stroke-linecap="butt"/>
<line x1="1866.0" y1="886.0" x2="1889.0" y2="886.0" stroke="#1b1718" stroke-width="3" stroke-linecap="butt"/>
<path d="M1628.8,2574 L1638.3,2522 L1702,2493 L2057.4,2493 L2122.5,2522 L2130.6,2574 Z" fill="url(#baseg)" stroke="#1b1718" stroke-width="5" stroke-linejoin="miter"/>
<path d="M1700,2493 L2059,2493" stroke="#1b1718" stroke-width="8.5" fill="none"/>
<line x1="1715.6" y1="2526.5" x2="1829.5" y2="2526.5" stroke="#1b1718" stroke-width="8" stroke-linecap="butt"/>
<line x1="1862.0" y1="2526.5" x2="2092.6" y2="2526.5" stroke="#1b1718" stroke-width="8" stroke-linecap="butt"/>
<rect x="1612" y="2575.5" width="532" height="13" rx="6" fill="url(#rimg)" stroke="#1b1718" stroke-width="4.5"/>
<rect x="1828" y="2480.5" width="100" height="10" fill="#f4f4f2" stroke="#1b1718" stroke-width="4.5"/>
<rect x="1866" y="2357" width="24" height="12" fill="#1b1718"/>
<path d="M1860,2369 L1895.5,2369 L1897,2379 Q1899,2383 1911.5,2383 L1911.5,2414 L1882,2414 Q1860,2414 1860,2392 Z" fill="#fff" stroke="#1b1718" stroke-width="5" stroke-linejoin="round"/>
<rect x="1913" y="2386" width="30" height="24.5" fill="#fff" stroke="#1b1718" stroke-width="4.5"/>
<rect x="1945" y="2382.5" width="31.5" height="33.5" fill="#fff" stroke="#1b1718" stroke-width="5"/>
<rect x="1977" y="2388.5" width="23" height="20" fill="#fff" stroke="#1b1718" stroke-width="4"/>
<rect x="2001.5" y="2381.5" width="20.5" height="35.5" fill="#fff" stroke="#1b1718" stroke-width="5"/>
<line x1="2004.0" y1="2388.0" x2="2020.0" y2="2388.0" stroke="#1b1718" stroke-width="3" stroke-linecap="butt"/>
<line x1="2004.0" y1="2410.5" x2="2020.0" y2="2410.5" stroke="#1b1718" stroke-width="3" stroke-linecap="butt"/>
<rect x="2023.5" y="2389.5" width="13.5" height="19" fill="#fff" stroke="#1b1718" stroke-width="4"/>
<rect x="2037" y="2391" width="19" height="16" fill="#fff" stroke="#1b1718" stroke-width="4"/>
<path d="M2056,2400.3 C2098,2400 2118,2414 2146,2456 C2174,2498 2198,2536 2238,2553 C2270,2565 2320,2567 2350,2555 C2385,2540 2395,2514 2412,2496 C2432,2476 2452,2472 2481,2471.6" fill="none" stroke="#1b1718" stroke-width="25" />
<path d="M2056,2400.3 C2098,2400 2118,2414 2146,2456 C2174,2498 2198,2536 2238,2553 C2270,2565 2320,2567 2350,2555 C2385,2540 2395,2514 2412,2496 C2432,2476 2452,2472 2481,2471.6" fill="none" stroke="#fff" stroke-width="16.2" />
<rect x="2481" y="2463" width="22" height="17.5" fill="#fff" stroke="#1b1718" stroke-width="4"/>
<rect x="2503" y="2460" width="11" height="22" fill="#fff" stroke="#1b1718" stroke-width="4"/>
<rect x="2515.5" y="2453" width="25" height="40" fill="#fff" stroke="#1b1718" stroke-width="5"/>
<line x1="2518.0" y1="2460.5" x2="2538.0" y2="2460.5" stroke="#1b1718" stroke-width="3" stroke-linecap="butt"/>
<line x1="2518.0" y1="2485.0" x2="2538.0" y2="2485.0" stroke="#1b1718" stroke-width="3" stroke-linecap="butt"/>
<rect x="2542" y="2460" width="19" height="25" fill="#fff" stroke="#1b1718" stroke-width="4"/>
<rect x="2561" y="2452.5" width="36.5" height="37.5" fill="#fff" stroke="#1b1718" stroke-width="5"/>
<rect x="2597.5" y="2459" width="26.5" height="23.5" fill="#fff" stroke="#1b1718" stroke-width="4.5"/>
<rect x="2650" y="2502" width="26" height="88" fill="#fff" stroke="#1b1718" stroke-width="6"/>
<rect x="2624" y="2444.5" width="20" height="52" fill="#fff" stroke="#1b1718" stroke-width="5"/>
<rect x="2642" y="2438" width="45.5" height="64" fill="#fff" stroke="#1b1718" stroke-width="6"/>
<path d="M2651,2438 L2651,2420 L2639,2420 L2639,2405.5 L2651,2405.5 L2651,2399 L2666,2399 L2666,2405 Q2688,2399 2699,2405 Q2706,2412 2699,2419 Q2688,2425 2666,2420 L2666,2438 Z" fill="#fff" stroke="#1b1718" stroke-width="5" stroke-linejoin="round"/>
<polygon points="2141.7,313.0 2160.2,299.9 2160.1,308.6 2164.1,316.4" fill="#1b1718"/>
<line x1="2348.6" y1="264.0" x2="2160.1" y2="308.6" stroke="#1b1718" stroke-width="6" stroke-linecap="butt"/>
<polygon points="2016.0,494.0 2034.6,481.1 2034.4,489.8 2038.4,497.6" fill="#1b1718"/>
<line x1="2188.0" y1="455.0" x2="2034.4" y2="489.8" stroke="#1b1718" stroke-width="6" stroke-linecap="butt"/>
<polygon points="1905.7,572.0 1925.9,561.8 1924.5,570.5 1927.3,578.8" fill="#1b1718"/>
<line x1="2188.0" y1="549.0" x2="1924.5" y2="570.5" stroke="#1b1718" stroke-width="6" stroke-linecap="butt"/>
<polygon points="1903.5,765.0 1919.9,749.4 1921.1,758.1 1926.2,765.2" fill="#1b1718"/>
<line x1="2191.0" y1="652.0" x2="1921.1" y2="758.1" stroke="#1b1718" stroke-width="6" stroke-linecap="butt"/>
<polygon points="1930.6,831.0 1950.5,820.2 1949.4,828.9 1952.4,837.1" fill="#1b1718"/>
<line x1="2186.6" y1="802.5" x2="1949.4" y2="828.9" stroke="#1b1718" stroke-width="6" stroke-linecap="butt"/>
<polygon points="1930.6,915.5 1950.5,904.7 1949.4,913.4 1952.4,921.6" fill="#1b1718"/>
<line x1="2186.6" y1="886.5" x2="1949.4" y2="913.4" stroke="#1b1718" stroke-width="6" stroke-linecap="butt"/>
<polygon points="1930.6,1023.4 1950.5,1012.6 1949.4,1021.3 1952.4,1029.5" fill="#1b1718"/>
<line x1="2186.6" y1="995.0" x2="1949.4" y2="1021.3" stroke="#1b1718" stroke-width="6" stroke-linecap="butt"/>
<polygon points="1898.0,1118.0 1917.9,1107.2 1916.8,1115.9 1919.8,1124.1" fill="#1b1718"/>
<line x1="2186.0" y1="1085.5" x2="1916.8" y2="1115.9" stroke="#1b1718" stroke-width="6" stroke-linecap="butt"/>
<polygon points="1904.0,2372.8 1904.6,2351.3 1911.1,2356.3 1919.3,2357.6" fill="#1b1718"/>
<line x1="2103.5" y1="1911.6" x2="1911.1" y2="2356.3" stroke="#1b1718" stroke-width="6.5" stroke-linecap="butt"/>
<polygon points="1959.0,2365.0 1959.8,2343.5 1966.3,2348.6 1974.4,2350.0" fill="#1b1718"/>
<line x1="2101.0" y1="2046.0" x2="1966.3" y2="2348.6" stroke="#1b1718" stroke-width="6.5" stroke-linecap="butt"/>
<polygon points="2024.3,2367.7 2026.5,2346.3 2032.6,2351.7 2040.6,2353.7" fill="#1b1718"/>
<line x1="2097.0" y1="2228.5" x2="2032.6" y2="2351.7" stroke="#1b1718" stroke-width="6.5" stroke-linecap="butt"/>
<polygon points="2581.4,2434.2 2561.9,2432.8 2566.9,2426.9 2568.7,2419.4" fill="#1b1718"/>
<line x1="2492.5" y1="2389.5" x2="2566.9" y2="2426.9" stroke="#1b1718" stroke-width="6.5" stroke-linecap="butt"/>
<polygon points="2678.0,2383.7 2672.9,2360.7 2680.8,2365.2 2689.7,2363.2" fill="#1b1718"/>
<line x1="2686.0" y1="2330.5" x2="2680.8" y2="2365.2" stroke="#1b1718" stroke-width="6" stroke-linecap="butt"/>
<path d="M2247,2638 Q2238,2590 2226,2556" fill="none" stroke="#1b1718" stroke-width="5.5"/>
<polygon points="2219.0,2536.0 2235.4,2555.7 2225.7,2555.3 2218.3,2561.6" fill="#1b1718"/>
<rect x="1994.2" y="1311.4" width="807.7" height="358.9" fill="#fff" stroke="#1b1718" stroke-width="19"/>
<g font-family="'Liberation Sans', Arial, Helvetica, sans-serif" font-weight="bold" fill="#1b1718" stroke="#1b1718" stroke-linejoin="round">
<text x="1335.6" y="129.0" font-size="60" textLength="360.6" lengthAdjust="spacingAndGlyphs" stroke-width="2.4" text-anchor="start">Top Clearance</text>
<text x="1337.0" y="193.4" font-size="51" textLength="74.4" lengthAdjust="spacingAndGlyphs" stroke-width="2.4" text-anchor="start">18”</text>
<text x="1705.0" y="248.3" font-size="60" textLength="377.8" lengthAdjust="spacingAndGlyphs" stroke-width="2.4" text-anchor="start">34 <tspan font-weight="normal" stroke-width="1.3">½</tspan>”Diameter</text>
<text x="1160.0" y="447.3" font-size="61.5" textLength="218.5" lengthAdjust="spacingAndGlyphs" stroke-width="2.4" text-anchor="start">24” Side</text>
<text x="1145.0" y="505.0" font-size="61" textLength="252.5" lengthAdjust="spacingAndGlyphs" stroke-width="2.4" text-anchor="start">Clearance</text>
<text x="1469.0" y="703.0" font-size="61" textLength="92.0" lengthAdjust="spacingAndGlyphs" stroke-width="2.4" text-anchor="start">12”</text>
<text x="1301.0" y="1269.3" font-size="61" textLength="91.0" lengthAdjust="spacingAndGlyphs" stroke-width="2.4" text-anchor="start">84”</text>
<text x="2358.0" y="284.0" font-size="61" textLength="230.5" lengthAdjust="spacingAndGlyphs" stroke-width="2.4" text-anchor="start">Reflector</text>
<text x="2198.0" y="485.0" font-size="60" textLength="515.2" lengthAdjust="spacingAndGlyphs" stroke-width="2.4" text-anchor="start">Radiant Emitter Grid</text>
<text x="2198.0" y="575.3" font-size="60" textLength="466.7" lengthAdjust="spacingAndGlyphs" stroke-width="2.4" text-anchor="start">Pilot Lighting Hole</text>
<text x="2199.3" y="676.5" font-size="60" textLength="323.7" lengthAdjust="spacingAndGlyphs" stroke-width="2.4" text-anchor="start">100% Safety</text>
<text x="2198.0" y="738.0" font-size="60" textLength="384.5" lengthAdjust="spacingAndGlyphs" stroke-width="2.4" text-anchor="start">Shutoff Control</text>
<text x="2197.0" y="827.0" font-size="60" textLength="459.7" lengthAdjust="spacingAndGlyphs" stroke-width="2.4" text-anchor="start">Heater Head Base</text>
<text x="2196.4" y="917.0" font-size="61" textLength="261.0" lengthAdjust="spacingAndGlyphs" stroke-width="2.4" text-anchor="start">Slip Collar</text>
<text x="2196.4" y="1016.9" font-size="61" textLength="453.6" lengthAdjust="spacingAndGlyphs" stroke-width="2.4" text-anchor="start">3”  Dia. Steel Post</text>
<text x="2195.3" y="1109.6" font-size="61" textLength="319.7" lengthAdjust="spacingAndGlyphs" stroke-width="2.4" text-anchor="start"><tspan font-weight="normal" stroke-width="1.3">½</tspan>”  Gas Pipe</text>
<text x="2161.0" y="1419.2" font-size="89" textLength="479.3" lengthAdjust="spacingAndGlyphs" stroke-width="4" text-anchor="start">WARNING</text>
<text x="2055.5" y="1492.8" font-size="60" textLength="684.3" lengthAdjust="spacingAndGlyphs" stroke-width="2.4" text-anchor="start">All external piping must be</text>
<text x="2055.5" y="1562.5" font-size="60" textLength="557.0" lengthAdjust="spacingAndGlyphs" stroke-width="2.4" text-anchor="start">protected against trip</text>
<text x="2055.5" y="1638.0" font-size="60" textLength="214.8" lengthAdjust="spacingAndGlyphs" stroke-width="2.4" text-anchor="start">hazards.</text>
<text x="2107.0" y="1923.0" font-size="61" textLength="328.6" lengthAdjust="spacingAndGlyphs" stroke-width="2.4" text-anchor="start"><tspan font-weight="normal" stroke-width="1.3">½</tspan>”  90 Elbow</text>
<text x="2108.0" y="2002.0" font-size="63" textLength="225.6" lengthAdjust="spacingAndGlyphs" stroke-width="2.4" text-anchor="start">Gas Inlet</text>
<text x="2107.0" y="2059.5" font-size="61" textLength="450.0" lengthAdjust="spacingAndGlyphs" stroke-width="2.4" text-anchor="start"><tspan font-weight="normal" stroke-width="1.3">½</tspan>”  Pipe Coupling</text>
<text x="2108.2" y="2148.8" font-size="61" textLength="320.8" lengthAdjust="spacingAndGlyphs" stroke-width="2.4" text-anchor="start">Rigid pipe or</text>
<text x="2108.2" y="2213.4" font-size="61" textLength="304.4" lengthAdjust="spacingAndGlyphs" stroke-width="2.4" text-anchor="start">Flexile Hose</text>
<text x="2108.2" y="2275.5" font-size="61" textLength="286.8" lengthAdjust="spacingAndGlyphs" stroke-width="2.4" text-anchor="start">Connection</text>
<text x="2600.7" y="2200.6" font-size="60" textLength="186.3" lengthAdjust="spacingAndGlyphs" stroke-width="2.4" text-anchor="start">Manual</text>
<text x="2600.7" y="2260.0" font-size="60" textLength="204.3" lengthAdjust="spacingAndGlyphs" stroke-width="2.4" text-anchor="start">Shut-off</text>
<text x="2600.7" y="2318.4" font-size="60" textLength="134.3" lengthAdjust="spacingAndGlyphs" stroke-width="2.4" text-anchor="start">Valve</text>
<text x="2342.6" y="2373.6" font-size="61" textLength="140.2" lengthAdjust="spacingAndGlyphs" stroke-width="2.4" text-anchor="start">Quick</text>
<text x="2205.0" y="2434.8" font-size="60" textLength="277.8" lengthAdjust="spacingAndGlyphs" stroke-width="2.4" text-anchor="start">Disconnect</text>
<text x="1360.0" y="2505.4" font-size="60" textLength="208.4" lengthAdjust="spacingAndGlyphs" stroke-width="2.4" text-anchor="start">7<tspan font-weight="normal" stroke-width="1.3">½</tspan>”Ref.</text>
<text x="1622.0" y="2716.7" font-size="60" textLength="489.6" lengthAdjust="spacingAndGlyphs" stroke-width="2.4" text-anchor="start">20” Weighted Base</text>
<text x="2213.5" y="2695.5" font-size="59" textLength="263.3" lengthAdjust="spacingAndGlyphs" stroke-width="2.4" text-anchor="start">U/L or CSA</text>
<text x="2213.5" y="2753.4" font-size="60" textLength="358.8" lengthAdjust="spacingAndGlyphs" stroke-width="2.4" text-anchor="start">Certified Hose</text>
<text x="2215.0" y="2815.6" font-size="60" textLength="512.0" lengthAdjust="spacingAndGlyphs" stroke-width="2.4" text-anchor="start">(12 Ft. Max. Length)</text>
</g>
</svg>
</body>
</html>
